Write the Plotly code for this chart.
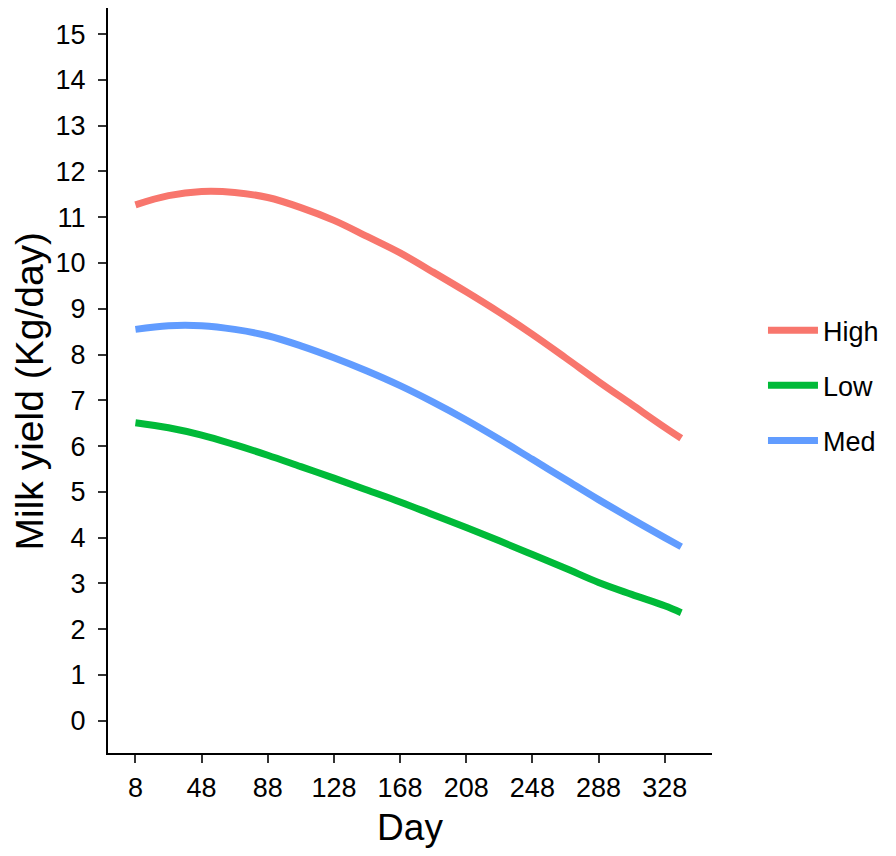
import plotly.graph_objects as go

# Days (x) and fitted milk yield per group
days = [8, 28, 48, 68, 88, 108, 128, 148, 168, 188, 208, 228, 248, 268, 288, 308, 328, 338]
high = [11.27, 11.47, 11.56, 11.54, 11.43, 11.21, 10.93, 10.58, 10.22, 9.80, 9.37,
        8.92, 8.44, 7.93, 7.41, 6.91, 6.41, 6.17]
low = [6.51, 6.40, 6.24, 6.03, 5.80, 5.55, 5.30, 5.04, 4.78, 4.50, 4.22,
       3.93, 3.63, 3.33, 3.02, 2.76, 2.51, 2.36]
med = [8.55, 8.63, 8.63, 8.55, 8.41, 8.19, 7.93, 7.64, 7.32, 6.96, 6.57,
       6.15, 5.71, 5.27, 4.83, 4.41, 4.00, 3.80]

groups = ["High", "Low", "Med"]
colors = {"High": "#F8766D", "Low": "#00BA38", "Med": "#619CFF"}
series = {"High": high, "Low": low, "Med": med}

x_ticks = [8, 48, 88, 128, 168, 208, 248, 288, 328]
y_ticks = list(range(0, 16))

font_family = "Liberation Sans, Arial, sans-serif"

fig = go.Figure()

for g in groups:
    fig.add_trace(go.Scatter(
        x=days,
        y=series[g],
        mode="lines",
        name=g,
        legendgroup=g,
        line=dict(color=colors[g], width=7, shape="spline", smoothing=1.0),
    ))

# note: the page body adds an 8px offset, margins are set to compensate
fig.update_layout(
    width=896,
    height=856,
    plot_bgcolor="white",
    paper_bgcolor="white",
    margin=dict(l=100, r=192, t=0, b=111),
    font=dict(family=font_family, color="black"),
    showlegend=True,
    legend=dict(
        x=1.0844, y=0.493, xanchor="left", yanchor="middle",
        font=dict(size=27, color="black"),
        tracegroupgap=17,
        itemwidth=50,
        bgcolor="rgba(0,0,0,0)",
    ),
)

# y title as an annotation so it can sit closer to the page edge
fig.add_annotation(
    text="Milk yield (Kg/day)",
    xref="paper", yref="paper",
    x=0, y=0.4852,
    xanchor="center", yanchor="middle",
    xshift=-78,
    textangle=-90,
    showarrow=False,
    font=dict(size=39, color="black"),
)

fig.update_xaxes(
    range=[-8.6, 356.6],
    tickvals=x_ticks,
    ticktext=[str(v) for v in x_ticks],
    showgrid=False,
    zeroline=False,
    showline=True,
    linecolor="black",
    linewidth=2,
    ticks="outside",
    ticklen=8,
    tickwidth=2,
    tickcolor="#333333",
    tickfont=dict(size=27, color="black"),
    ticklabelstandoff=2,
    title=dict(text="Day", font=dict(size=37, color="black"), standoff=12),
)

fig.update_yaxes(
    range=[-0.705, 15.57],
    tickvals=y_ticks,
    showgrid=False,
    zeroline=False,
    showline=True,
    linecolor="black",
    linewidth=2,
    ticks="outside",
    ticklen=8,
    tickwidth=2,
    tickcolor="#333333",
    tickfont=dict(size=27, color="black"),
    ticklabelstandoff=7,
)

fig.write_html("out.html")
